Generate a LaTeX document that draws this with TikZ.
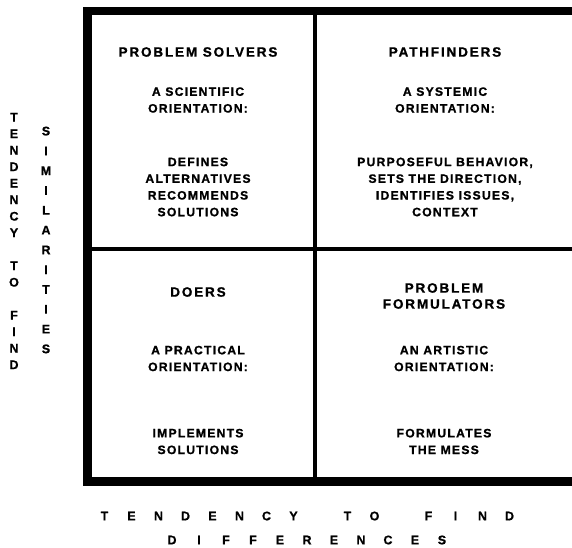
\documentclass[tikz,border=0pt]{standalone}
\usepackage{fontspec}
\setmainfont{Liberation Sans}
\newfontfamily\trackfont[LetterSpace=13.7,FakeBold=1]{Liberation Sans Bold}
\newfontfamily\trackfontb[LetterSpace=10,FakeBold=1]{Liberation Sans Bold}
\newfontfamily\plainheavy[FakeBold=1]{Liberation Sans Bold}
\newcommand\slotc[1]{\makebox[27pt]{#1}}
\tikzset{
  frameline/.style={line width=8.5pt, line join=miter, line cap=butt},
  divline/.style={line width=3.5pt},
  titletext/.style={font=\trackfont\fontsize{13.5}{16}\selectfont, align=center, inner sep=0pt},
  bodytext/.style={font=\trackfontb\fontsize{12.2}{16.7}\selectfont, align=center, inner sep=0pt},
  sidetext/.style={font=\plainheavy\fontsize{12.5}{16.5}\selectfont, align=center, inner sep=0pt},
  sidetextb/.style={font=\plainheavy\fontsize{12.5}{19.8}\selectfont, align=center, inner sep=0pt},
  axistext/.style={font=\plainheavy\fontsize{12.5}{24}\selectfont, align=center, inner sep=0pt}
}
\begin{document}
\begin{tikzpicture}[x=1pt, y=-1pt]
\useasboundingbox (0,0) rectangle (572,547);
% frame corners
\coordinate (tr) at (572,11);
\coordinate (tl) at (87.5,11);
\coordinate (bl) at (87.5,481.5);
\coordinate (br) at (572,481.5);
\coordinate (vt) at (315,11);
\coordinate (vb) at (315,481.5);
\coordinate (hl) at (87.5,249);
\coordinate (hr) at (572,249);
\draw[divline] (vt) -- (vb);
\draw[divline] (hl) -- (hr);
\draw[frameline] (tr) -- (tl) -- (bl) -- (br);

% top-left quadrant
\node[titletext] (pstitle) at (198,52) {PROBLEM SOLVERS};
\node[bodytext] (psorient) at (198,100) {A SCIENTIFIC\\ORIENTATION:};
\node[bodytext] (psdesc) at (198,187) {DEFINES\\ALTERNATIVES\\RECOMMENDS\\SOLUTIONS};

% top-right quadrant
\node[titletext] (pftitle) at (445,52) {PATHFINDERS};
\node[bodytext] (pforient) at (445,100) {A SYSTEMIC\\ORIENTATION:};
\node[bodytext] (pfdesc) at (445,187) {PURPOSEFUL BEHAVIOR,\\SETS THE DIRECTION,\\IDENTIFIES ISSUES,\\CONTEXT};

% bottom-left quadrant
\node[titletext] (dotitle) at (198,292) {DOERS};
\node[bodytext] (doorient) at (198,358.5) {A PRACTICAL\\ORIENTATION:};
\node[bodytext] (dodesc) at (198,441.5) {IMPLEMENTS\\SOLUTIONS};

% bottom-right quadrant
\node[titletext] (pmtitle) at (444,296) {PROBLEM\\FORMULATORS};
\node[bodytext] (pmorient) at (444,358.5) {AN ARTISTIC\\ORIENTATION:};
\node[bodytext] (pmdesc) at (444,441.5) {FORMULATES\\THE MESS};

% side labels
\node[sidetext] (sidea) at (14,241) {T\\E\\N\\D\\E\\N\\C\\Y\\[16.5pt]T\\O\\[16.5pt]F\\I\\N\\D};
\node[sidetextb] (sideb) at (46,240) {S\\I\\M\\I\\L\\A\\R\\I\\T\\I\\E\\S};

% bottom label
\node[axistext] (axis) at (307,528) {\slotc{T}\slotc{E}\slotc{N}\slotc{D}\slotc{E}\slotc{N}\slotc{C}\slotc{Y}\slotc{}\slotc{T}\slotc{O}\slotc{}\slotc{F}\slotc{I}\slotc{N}\slotc{D}\\\slotc{D}\slotc{I}\slotc{F}\slotc{F}\slotc{E}\slotc{R}\slotc{E}\slotc{N}\slotc{C}\slotc{E}\slotc{S}};
\end{tikzpicture}
\end{document}
